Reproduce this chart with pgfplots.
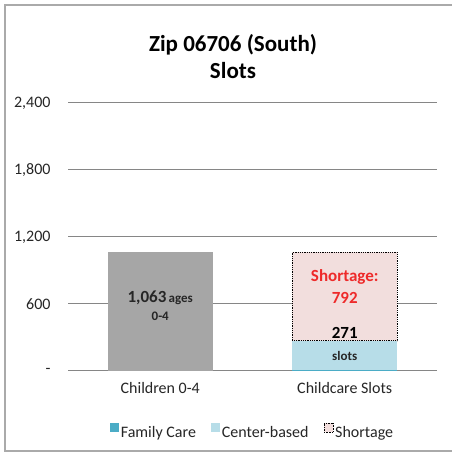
\documentclass[border=0pt]{standalone}
\usepackage{pgfplots}
\pgfplotsset{compat=1.18}
\usepackage{fontspec}
\setmainfont{Carlito}
\definecolor{gridc}{RGB}{134,134,134}
\definecolor{framec}{RGB}{170,170,170}
\definecolor{barg}{RGB}{166,166,166}
\definecolor{fam}{RGB}{75,172,198}
\definecolor{cen}{RGB}{183,221,232}
\definecolor{short}{RGB}{242,222,221}
\definecolor{redt}{RGB}{238,42,42}
\pgfplotsset{overlay axis/.style={
  at={(68pt,81pt)}, anchor=south west, scale only axis,
  width=369pt, height=268pt,
  xmin=-0.5, xmax=1.5, ymin=0, ymax=2400, clip=false}}
\begin{document}
\begin{tikzpicture}[x=1pt,y=1pt]
\path[use as bounding box] (0,0) rectangle (451,452);
\fill[white] (0,0) rectangle (451,452);
\draw[framec, line width=1.5pt] (460,1) -- (5,1) -- (5,447) -- (460,447);
\node[font=\fontsize{23}{27}\selectfont\bfseries, align=center] at (233,395) {Zip 06706 (South)\\Slots};
\begin{axis}[
  overlay axis,
  axis line style={draw=none},
  major tick length=0pt,
  ytick={0,600,1200,1800,2400},
  yticklabels={{-\hspace{10pt}},600,{1,200},{1,800},{2,400}},
  xtick={0,1}, xticklabels={Children 0-4, Childcare Slots},
  ymajorgrids, major grid style={gridc, line width=1pt},
  tick label style={font=\fontsize{16}{19}\selectfont, text=black!85},
  yticklabel style={xshift=-14pt},
  xticklabel style={yshift=-8pt},
]
\addplot[ybar, bar width=105pt, bar shift=0pt, fill=barg, draw=none] coordinates {(0,1063)};
\end{axis}
\begin{axis}[
  overlay axis,
  hide axis, ybar stacked, bar width=105pt,
  legend columns=3,
  legend style={at={(0.5,0)}, anchor=center, yshift=-61pt, draw=none, fill=none,
    font=\fontsize{16}{19}\selectfont, text=black!85,
    /tikz/every even column/.append style={column sep=13pt}},
]
\addplot[fill=fam, draw=none, legend image code/.code={\fill[fam] (0pt,0pt) rectangle (9pt,9pt);}] coordinates {(1,12)};
\addplot[fill=cen, draw=none, legend image code/.code={\fill[cen] (0pt,0pt) rectangle (9pt,9pt);}] coordinates {(1,259)};
\addplot[fill=short, draw=black, densely dotted, line width=0.8pt, legend image code/.code={\draw[fill=short, draw=black, densely dotted, line width=0.6pt] (0pt,0pt) rectangle (9pt,9pt);}] coordinates {(1,792)};
\legend{Family Care, Center-based, Shortage}
\end{axis}
\begin{axis}[overlay axis, hide axis]
\node[font=\bfseries, text=black!85] at (axis cs:0,651) {{\fontsize{17}{20}\selectfont 1,063} {\fontsize{13}{15}\selectfont ages}};
\node[font=\bfseries\fontsize{13}{15}\selectfont, text=black!85] at (axis cs:0,490) {0-4};
\node[font=\bfseries\fontsize{17}{22}\selectfont, text=redt, align=center] at (axis cs:1,758) {Shortage:\\792};
\node[font=\bfseries\fontsize{17}{20}\selectfont, text=black] at (axis cs:1,339) {271};
\node[font=\bfseries\fontsize{13}{15}\selectfont, text=black!85] at (axis cs:1,134) {slots};
\end{axis}
\end{tikzpicture}
\end{document}
